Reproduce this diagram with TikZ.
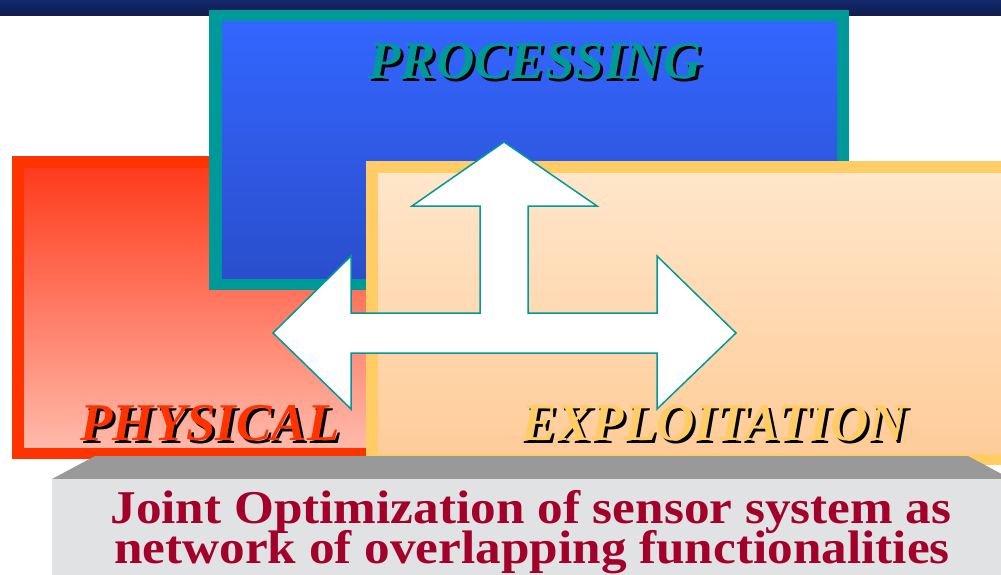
\documentclass[tikz,border=0pt]{standalone}
\usepackage{fontspec}
\setmainfont{Liberation Serif}
\newfontfamily\bannerfont{Liberation Serif}[FakeStretch=1.09]
\usetikzlibrary{positioning}
\definecolor{navytop}{HTML}{14296B}
\definecolor{navybot}{HTML}{0F1C4D}
\definecolor{tealline}{HTML}{009999}
\definecolor{blueup}{HTML}{3366FF}
\definecolor{bluedown}{HTML}{2A4ECC}
\definecolor{redline}{HTML}{FF3300}
\definecolor{redup}{HTML}{FF3B1C}
\definecolor{reddown}{HTML}{FFB9AA}
\definecolor{goldline}{HTML}{FFCC66}
\definecolor{peachup}{HTML}{FFE6CA}
\definecolor{peachdown}{HTML}{FFCC99}
\definecolor{slab}{HTML}{999999}
\definecolor{marble}{HTML}{E0E2E4}
\definecolor{wine}{HTML}{A3002A}

\begin{document}
\begin{tikzpicture}[x=1pt, y=-1pt,
    title/.style={font=\fontsize{53}{53}\selectfont\bfseries\itshape, inner sep=0pt, anchor=base},
    banner/.style={font=\fontsize{47}{47}\selectfont\bannerfont\bfseries, text=wine, inner sep=0pt, anchor=base},
    arrowline/.style={fill=white, draw=tealline, line width=1.5pt, line join=miter},
  ]
  \clip (0,0) rectangle (1001,575);
  % Top band
  \shade[top color=navytop, bottom color=navybot] (0,0) rectangle (1001,16);

  % Physical
  \fill[redline] (12,156) rectangle (380,459);
  \shade[top color=redup, bottom color=reddown] (24,168) rectangle (368,447);

  % Processing
  \fill[tealline] (209,10) rectangle (849,290);
  \shade[top color=blueup, bottom color=bluedown] (222,22) rectangle (837,278);

  % Exploitation
  \fill[goldline] (366,161) rectangle (1015,465);
  \shade[top color=peachup, bottom color=peachdown] (378,173) rectangle (1015,453);

  % Three-way arrow
  \draw[arrowline] (504,142) -- (597,206) -- (528,206) -- (528,313) -- (657,313)
    -- (657,256) -- (736,333) -- (657,409) -- (657,353) -- (351,353) -- (351,409)
    -- (273,333) -- (351,256) -- (351,313) -- (480,313) -- (480,206) -- (412,206) -- cycle;

  % Titles with drop shadow
  \node[title, text=black] (procshadow) at (538,82) {PROCESSING};
  \node[title, text=tealline] (proc) at (535,79) {PROCESSING};
  \node[title, text=black] (physshadow) at (213,443) {PHYSICAL};
  \node[title, text=redline] (phys) at (210,440) {PHYSICAL};
  \node[title, text=black] (explshadow) at (717,443) {EXPLOITATION};
  \node[title, text=goldline] (expl) at (714,440) {EXPLOITATION};

  % Pedestal
  \fill[slab] (95,456) -- (968,456) -- (1011,479) -- (52,479) -- cycle;
  \fill[marble] (52,479) rectangle (1001,575);
  \node[banner] (line1) at (531,523) {Joint Optimization of sensor system as};
  \node[banner] (line2) at (532,563) {network of overlapping functionalities};
\end{tikzpicture}
\end{document}
